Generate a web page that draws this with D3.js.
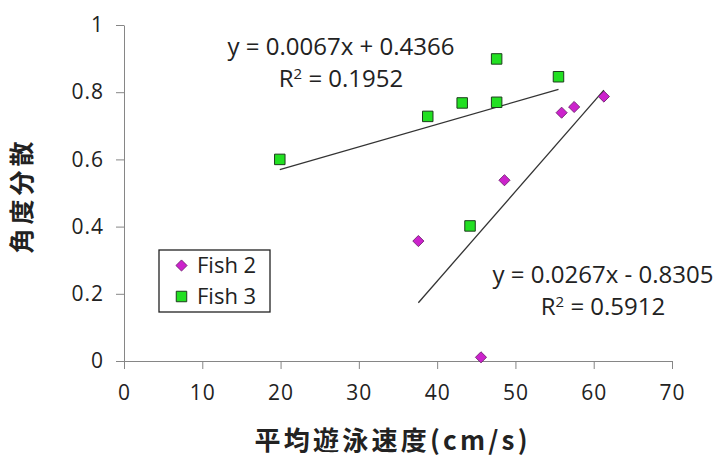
<!DOCTYPE html>
<html>
<head>
<meta charset="utf-8">
<script src="https://cdn.jsdelivr.net/npm/d3@7"></script>
<style>
  body { margin: 0; background: #fff; }
  text { font-family: "Open Sans", sans-serif; fill: #222; }
</style>
</head>
<body>
<svg width="715" height="460"></svg>
<script>
// data
var fish2X = [37.6, 45.6, 48.6, 55.9, 57.5, 61.3];
var fish2Y = [0.357, 0.011, 0.538, 0.739, 0.756, 0.787];
var fish3X = [19.9, 38.8, 43.2, 44.2, 47.6, 47.6, 55.5];
var fish3Y = [0.600, 0.728, 0.768, 0.402, 0.770, 0.899, 0.846];
// trend line coefficients (slope, intercept) as printed in the chart
var fit2 = [0.0267, -0.8305];
var fit3 = [0.0067, 0.4366];
var xTicks = [0, 10, 20, 30, 40, 50, 60, 70];
var yTicks = [0, 0.2, 0.4, 0.6, 0.8, 1];

var svg = d3.select("svg");

var x = d3.scaleLinear().domain([0, 70]).range([124, 672]);
var y = d3.scaleLinear().domain([0, 1]).range([361, 25]);

// axes
var xAxis = svg.append("g")
  .attr("transform", "translate(0," + y(0) + ")")
  .call(d3.axisBottom(x).tickValues(xTicks).tickSize(8).tickSizeOuter(0).tickPadding(16));
var yAxis = svg.append("g")
  .attr("transform", "translate(" + x(0) + ",0)")
  .call(d3.axisLeft(y).tickValues(yTicks).tickSize(8).tickSizeOuter(0).tickPadding(12)
    .tickFormat(d3.format("")));

[xAxis, yAxis].forEach(function (a) {
  a.select(".domain").attr("stroke", "#868686");
  a.selectAll(".tick line").attr("stroke", "#868686");
  a.selectAll(".tick text")
    .style("font-family", "'Open Sans', sans-serif")
    .style("font-size", "21px")
    .style("letter-spacing", "1px")
    .attr("fill", "#222");
});

// trend lines over each series' x range
function trend(xs, fit) {
  var ext = d3.extent(xs);
  return ext.map(function (v) { return [v, fit[0] * v + fit[1]]; });
}
var line = d3.line().x((d) => x(d[0])).y((d) => y(d[1]));

svg.append("path")
  .attr("d", line(trend(fish3X, fit3)))
  .attr("stroke", "#333").attr("stroke-width", 1.3).attr("fill", "none");
svg.append("path")
  .attr("d", line(trend(fish2X, fit2)))
  .attr("stroke", "#333").attr("stroke-width", 1.3).attr("fill", "none");

// points: squares, and squares turned 45 degrees for the diamonds
var sq = d3.symbol().type(d3.symbolSquare).size(110);
var dm = d3.symbol().type(d3.symbolSquare).size(62);

svg.append("g").selectAll("path")
  .data(d3.zip(fish2X, fish2Y))
  .enter()
  .append("path")
  .attr("d", dm)
  .attr("transform", (d) => "translate(" + x(d[0]) + "," + y(d[1]) + ") rotate(45)")
  .attr("fill", "#cc22cc")
  .attr("stroke", "#6a1a6a")
  .attr("stroke-width", 0.8);

svg.append("g").selectAll("path")
  .data(d3.zip(fish3X, fish3Y))
  .enter()
  .append("path")
  .attr("d", sq)
  .attr("transform", (d) => "translate(" + x(d[0]) + "," + y(d[1]) + ")")
  .attr("fill", "#22e022")
  .attr("stroke", "#1d3d1d")
  .attr("stroke-width", 1);

// equation labels
function eq(cx, cy, t1, t2) {
  svg.append("text").attr("x", cx).attr("y", cy)
    .attr("text-anchor", "middle").style("font-size", "24px").text(t1);
  var r = svg.append("text").attr("x", cx).attr("y", cy + 32)
    .attr("text-anchor", "middle").style("font-size", "24px");
  r.append("tspan").text("R");
  r.append("tspan").attr("dy", -8).style("font-size", "15px").text("2");
  r.append("tspan").attr("dy", 8).text(" = " + t2);
}
eq(341, 55, "y = " + fit3[0] + "x + " + fit3[1], "0.1952");
eq(603, 283, "y = " + fit2[0] + "x - " + Math.abs(fit2[1]), "0.5912");

// legend
var lg = svg.append("g").attr("transform", "translate(159,250)");
lg.append("rect").attr("width", 111).attr("height", 62)
  .attr("fill", "#fff").attr("stroke", "#222").attr("stroke-width", 1.3);
lg.append("path").attr("d", dm).attr("transform", "translate(22.5,15.5) rotate(45)")
  .attr("fill", "#cc22cc").attr("stroke", "#6a1a6a").attr("stroke-width", 0.8);
lg.append("path").attr("d", sq).attr("transform", "translate(22.5,46.5)")
  .attr("fill", "#22e022").attr("stroke", "#1d3d1d").attr("stroke-width", 1);
lg.append("text").attr("x", 38).attr("y", 23).style("font-size", "22px").text("Fish 2");
lg.append("text").attr("x", 38).attr("y", 54).style("font-size", "22px").text("Fish 3");

// axis titles
svg.append("text")
  .attr("transform", "translate(31,197.5) rotate(-90)")
  .attr("text-anchor", "middle")
  .style("font-family", "'Noto Sans CJK JP', sans-serif")
  .style("font-size", "25px").style("font-weight", "bold")
  .attr("textLength", 112).attr("lengthAdjust", "spacing")
  .text("角度分散");
svg.append("text")
  .attr("x", 391).attr("y", 450)
  .attr("text-anchor", "middle")
  .style("font-family", "'Noto Sans CJK JP', sans-serif")
  .style("font-size", "26px").style("font-weight", "bold")
  .attr("textLength", 273).attr("lengthAdjust", "spacing")
  .text("平均遊泳速度(cm/s)");
</script>
</body>
</html>
